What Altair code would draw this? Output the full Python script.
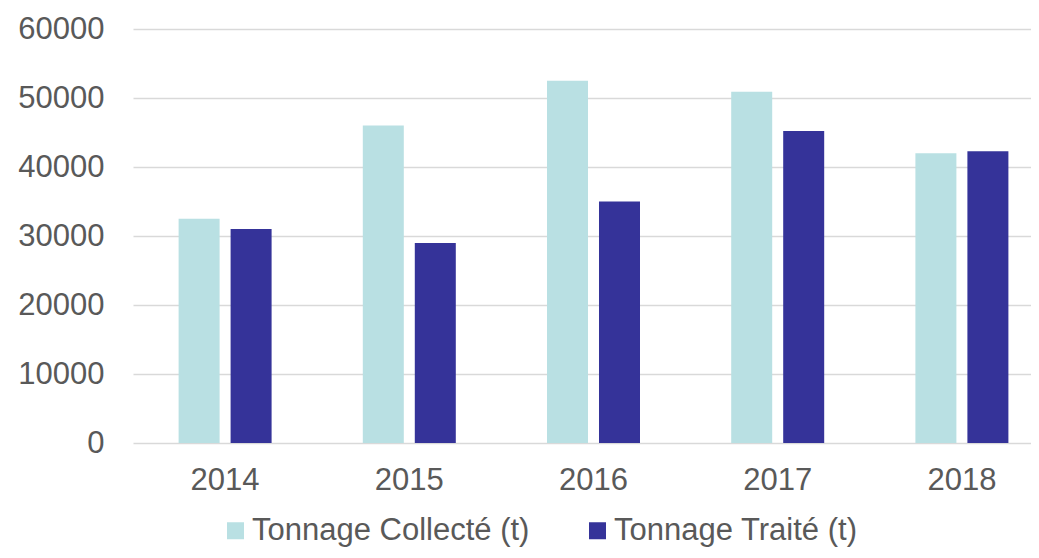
import altair as alt
import pandas as pd

years = ["2014", "2015", "2016", "2017", "2018"]
collecte = [32500, 46000, 52500, 50900, 42000]
traite = [31000, 29000, 35000, 45200, 42300]
series = ["Tonnage Collecté (t)", "Tonnage Traité (t)"]
colors = ["#b9e0e3", "#353399"]
y_ticks = [0, 10000, 20000, 30000, 40000, 50000, 60000]

rows = []
for i, yr in enumerate(years):
    rows.append({"year": yr, "series": series[0], "value": collecte[i]})
    rows.append({"year": yr, "series": series[1], "value": traite[i]})
df = pd.DataFrame(rows)

FONT = "Liberation Sans"
TXT = "#595959"

chart = alt.Chart(df).mark_bar().encode(
    x=alt.X("year:N", sort=years, title=None,
            scale=alt.Scale(range=[0, 921], paddingInner=0, paddingOuter=0),
            axis=alt.Axis(labelAngle=0, domain=False, ticks=False, labelFontSize=31,
                          labelColor=TXT, labelFont=FONT, labelPadding=22)),
    xOffset=alt.XOffset("series:N", sort=series,
                        scale=alt.Scale(paddingInner=0.2115, paddingOuter=0.877)),
    y=alt.Y("value:Q", title=None,
            scale=alt.Scale(domain=[0, 60000], nice=False),
            axis=alt.Axis(values=y_ticks, domain=False, ticks=False, labelFontSize=31,
                          labelColor=TXT, labelFont=FONT, labelPadding=29,
                          gridColor="#d9d9d9", gridWidth=1.6, format="d")),
    color=alt.Color("series:N", sort=series,
                    scale=alt.Scale(domain=series, range=colors),
                    legend=alt.Legend(title=None, orient="none", direction="horizontal",
                                      legendX=87, legendY=486, padding=0,
                                      symbolType="square",
                                      symbolSize=289, symbolStrokeWidth=0,
                                      labelFontSize=31, labelFont=FONT, labelColor=TXT,
                                      labelOffset=1, columnPadding=52, labelLimit=400)),
).properties(
    width=898, height=414,
    autosize=alt.AutoSizeParams(type="none"),
    padding={"left": 125, "top": 21, "right": 0, "bottom": 107},
).configure_view(stroke=None)

chart.save("out.html", embed_options={"renderer": "svg", "actions": False})
